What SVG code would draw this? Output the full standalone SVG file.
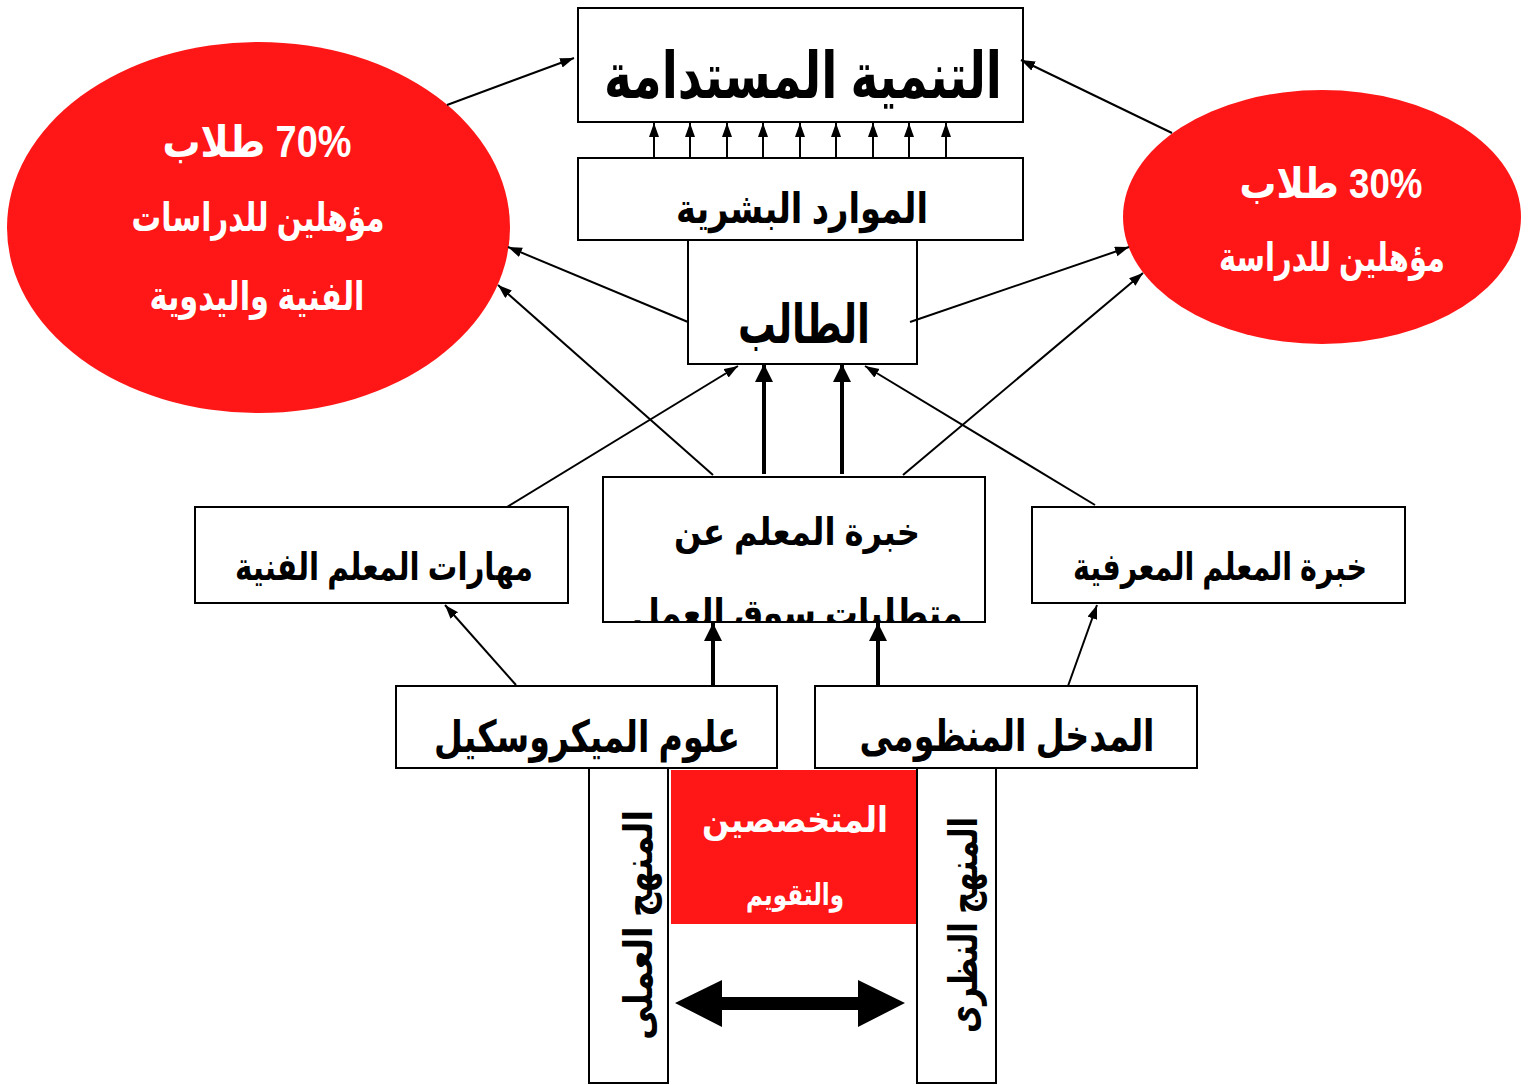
<svg xmlns="http://www.w3.org/2000/svg" width="1533" height="1085" viewBox="0 0 1533 1085">
<style>
.box{fill:#fff;stroke:#000;stroke-width:2}
.oval{fill:#ff1616;stroke:none}
.t{font-family:"Liberation Sans","DejaVu Sans",sans-serif;font-weight:bold;text-anchor:middle;fill:#000;direction:rtl;unicode-bidi:embed}
.w{fill:#fff}
.ln{stroke:#000;stroke-width:2;fill:none;marker-end:url(#ah)}
.thick{stroke:#000;stroke-width:4;fill:none;marker-end:url(#ahb)}
</style>
<defs>
<marker id="ah" markerUnits="userSpaceOnUse" markerWidth="16" markerHeight="12" refX="14" refY="5" orient="auto"><path d="M0,0 L14,5 L0,10 z" fill="#000"/></marker>
<marker id="ahb" markerUnits="userSpaceOnUse" markerWidth="20" markerHeight="20" refX="18" refY="9" orient="auto"><path d="M0,0 L18,9 L0,18 z" fill="#000"/></marker>
<clipPath id="clipMid"><rect x="604" y="478" width="380" height="143"/></clipPath>
</defs>

<g id="oval70">
<ellipse class="oval" cx="258.5" cy="227.5" rx="251.5" ry="185.5"/>
<text class="t w" direction="rtl" x="257" y="157" font-size="44" textLength="189" lengthAdjust="spacingAndGlyphs">70% طلاب</text>
<text class="t w" direction="rtl" x="258" y="231" font-size="40" textLength="253" lengthAdjust="spacingAndGlyphs">مؤهلين للدراسات</text>
<text class="t w" direction="rtl" x="257" y="310" font-size="40" textLength="215" lengthAdjust="spacingAndGlyphs">الفنية واليدوية</text>
</g>

<g id="oval30">
<ellipse class="oval" cx="1322" cy="217" rx="199" ry="127"/>
<text class="t w" direction="rtl" x="1331" y="198" font-size="42" textLength="183" lengthAdjust="spacingAndGlyphs">30% طلاب</text>
<text class="t w" direction="rtl" x="1332" y="271" font-size="40" textLength="226" lengthAdjust="spacingAndGlyphs">مؤهلين للدراسة</text>
</g>

<g id="tanmia">
<rect class="box" x="578" y="8" width="445" height="114"/>
<text class="t" direction="rtl" x="803" y="98" font-size="64" textLength="398" lengthAdjust="spacingAndGlyphs">التنمية المستدامة</text>
</g>

<g id="mawared">
<rect class="box" x="578" y="158" width="445" height="82"/>
<text class="t" direction="rtl" x="802" y="223" font-size="42" textLength="252" lengthAdjust="spacingAndGlyphs">الموارد البشرية</text>
</g>

<g id="taleb">
<rect class="box" x="688" y="240" width="229" height="124"/>
<text class="t" direction="rtl" x="804" y="343" font-size="54" textLength="132" lengthAdjust="spacingAndGlyphs">الطالب</text>
</g>

<g id="maharat">
<rect class="box" x="195" y="507" width="373" height="96"/>
<text class="t" direction="rtl" x="384" y="580" font-size="38" textLength="298" lengthAdjust="spacingAndGlyphs">مهارات المعلم الفنية</text>
</g>

<g id="khebra-souq">
<rect class="box" x="603" y="477" width="382" height="145"/>
<g clip-path="url(#clipMid)">
<text class="t" direction="rtl" x="797" y="545" font-size="38" textLength="246" lengthAdjust="spacingAndGlyphs">خبرة المعلم عن</text>
<text class="t" direction="rtl" x="797" y="626" font-size="38" textLength="331" lengthAdjust="spacingAndGlyphs">متطلبات سوق العمل</text>
</g>
</g>

<g id="khebra-maarifia">
<rect class="box" x="1032" y="507" width="373" height="96"/>
<text class="t" direction="rtl" x="1220" y="580" font-size="38" textLength="294" lengthAdjust="spacingAndGlyphs">خبرة المعلم المعرفية</text>
</g>

<g id="micro">
<rect class="box" x="396" y="686" width="381" height="82"/>
<text class="t" direction="rtl" x="587" y="752" font-size="44" textLength="306" lengthAdjust="spacingAndGlyphs">علوم الميكروسكيل</text>
</g>

<g id="madkhal">
<rect class="box" x="815" y="686" width="382" height="82"/>
<text class="t" direction="rtl" x="1007" y="751" font-size="44" textLength="295" lengthAdjust="spacingAndGlyphs">المدخل المنظومى</text>
</g>

<g id="amali">
<rect class="box" x="589" y="768" width="79" height="315"/>
<text class="t" direction="rtl" transform="translate(652,925) rotate(-90)" x="0" y="0" font-size="40" textLength="230" lengthAdjust="spacingAndGlyphs">المنهج العملى</text>
</g>

<g id="nazari">
<rect class="box" x="917" y="768" width="79" height="315"/>
<text class="t" direction="rtl" transform="translate(977,925) rotate(-90)" x="0" y="0" font-size="40" textLength="216" lengthAdjust="spacingAndGlyphs">المنهج النظرى</text>
</g>

<g id="motakhasesin">
<rect x="671" y="770" width="245" height="154" fill="#ff1616"/>
<text class="t w" direction="rtl" x="795" y="832" font-size="36" textLength="186" lengthAdjust="spacingAndGlyphs">المتخصصين</text>
<text class="t w" direction="rtl" x="795" y="905" font-size="30" textLength="98" lengthAdjust="spacingAndGlyphs">والتقويم</text>
</g>

<g id="connectors">
<line class="ln" x1="447" y1="105" x2="574" y2="58"/>
<line class="ln" x1="1172" y1="133" x2="1021" y2="60"/>
<line class="ln" x1="654" y1="158" x2="654" y2="123"/>
<line class="ln" x1="690" y1="158" x2="690" y2="123"/>
<line class="ln" x1="727" y1="158" x2="727" y2="123"/>
<line class="ln" x1="763" y1="158" x2="763" y2="123"/>
<line class="ln" x1="800" y1="158" x2="800" y2="123"/>
<line class="ln" x1="836" y1="158" x2="836" y2="123"/>
<line class="ln" x1="873" y1="158" x2="873" y2="123"/>
<line class="ln" x1="909" y1="158" x2="909" y2="123"/>
<line class="ln" x1="946" y1="158" x2="946" y2="123"/>
<line class="ln" x1="688" y1="322" x2="508" y2="247"/>
<line class="ln" x1="910" y1="322" x2="1129" y2="247"/>
<line class="ln" x1="507" y1="507" x2="738" y2="366"/>
<line class="ln" x1="713" y1="475" x2="498" y2="285"/>
<line class="ln" x1="903" y1="475" x2="1143" y2="273"/>
<line class="ln" x1="1095" y1="505" x2="865" y2="366"/>
<line class="thick" x1="764" y1="474" x2="764" y2="364"/>
<line class="thick" x1="842" y1="474" x2="842" y2="364"/>
<line class="ln" x1="516" y1="685" x2="445" y2="605"/>
<line class="thick" x1="713" y1="686" x2="713" y2="623"/>
<line class="thick" x1="878" y1="686" x2="878" y2="623"/>
<line class="ln" x1="1068" y1="686" x2="1097" y2="605"/>
<polygon points="675,1003 722,980 722,997 858,997 858,980 905,1003 858,1027 858,1010 722,1010 722,1027" fill="#000"/>
</g>
</svg>
